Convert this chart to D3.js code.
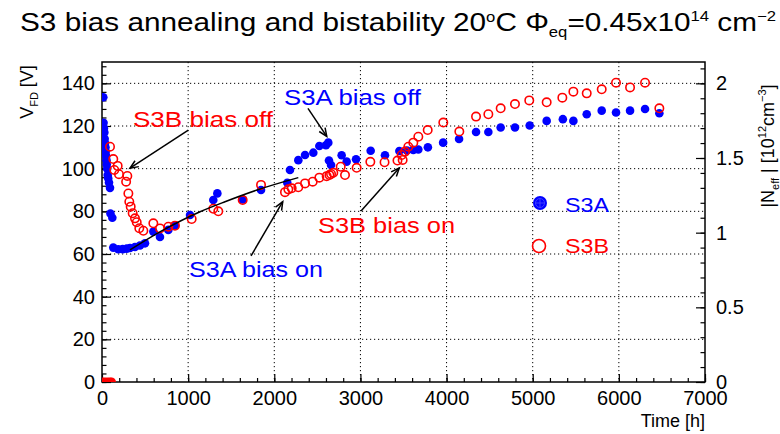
<!DOCTYPE html>
<html>
<head>
<meta charset="utf-8">
<script src="https://cdn.jsdelivr.net/npm/d3@7"></script>
<style>
  body { margin: 0; background: #fff; }
  svg { display: block; font-family: "Liberation Sans", Arial, sans-serif; }
</style>
</head>
<body>
<svg id="chart" width="780" height="434"></svg>
<script>
// S3A, bias switched on/off (time [h], V_FD [V])
var s3aTime = [15, 18, 22, 27, 31, 35, 40, 43, 48, 52, 55, 60, 66, 72, 81, 93, 98, 120,
  131, 189, 240, 287, 325, 383, 441, 499, 596, 673, 770, 847, 1022, 1292, 1339, 1633, 1846,
  2151, 2182, 2279, 2357, 2453, 2523, 2600, 2627, 2635, 2659, 2782, 2840, 2949, 3119, 3285,
  3452, 3540, 3614, 3672, 3783, 3960, 4145, 4342, 4485, 4628, 4794, 4965, 5162, 5350, 5472,
  5627, 5801, 5967, 6130, 6304, 6470];
var s3aVfd = [133.5, 121.5, 119, 117, 114, 112, 110, 108, 106, 104, 102, 100, 97, 95.5, 93.5, 91, 79, 77,
  63, 62.2, 62.3, 62.5, 62.8, 63.3, 64, 65, 70.5, 68, 71.3, 73.3, 78.3, 85.3, 88.4, 85.6, 90,
  93.4, 99.4, 104, 106.4, 107.5, 110.6, 111, 112.2, 103.8, 101.7, 106.3, 103.3, 104.4, 108.4, 106.3,
  108.3, 108.5, 108.8, 109, 110, 112.2, 113.9, 117.2, 117.2, 119.3, 119.3, 120.2, 122.4, 123.2, 122.4,
  125.5, 127.2, 126.3, 127.2, 128, 126];

// S3B, open markers
var s3bTime = [93, 131, 143, 182, 197, 280, 294, 306, 317, 333, 356, 383, 403, 433, 480,
  596, 673, 770, 847, 1041, 1292, 1350, 1633, 1846, 2124, 2163, 2202, 2279, 2357, 2446, 2523,
  2608, 2640, 2659, 2685, 2771, 2821, 2956, 3115, 3280, 3430, 3479, 3490, 3518, 3556, 3614,
  3672, 3781, 3962, 4148, 4342, 4485, 4628, 4794, 4960, 5162, 5344, 5472, 5627, 5801, 5967,
  6130, 6304, 6470];
var s3bVfd = [110.3, 104.5, 99.4, 101.3, 97.4, 93.9, 96.6, 88.4, 84.5, 82.2, 79.1, 76.7, 74.9, 72.1, 70.9,
  74.4, 72, 72.8, 73.3, 76.4, 81.2, 80, 85.3, 92.4, 89, 90.3, 90.8, 91.3, 93.1, 93.9, 95.8,
  96.5, 97, 97.5, 98.1, 100.9, 97, 100.4, 103.2, 103, 103.8, 106.4, 104.1, 108, 110.3, 112.2,
  115, 118.1, 121.6, 117.4, 124.4, 125.5, 128.3, 130.3, 132, 131.1, 133.3, 136.1, 135.3, 137.2, 140.3,
  138.1, 140.3, 128.3];

// S3B points sitting at zero (filled)
var s3bZeroTime = [5, 30, 60, 90, 110];
var s3bZeroVfd = [0, 0, 0, 0, 0];

// black fit curve through the S3A bias-on part
var fitTime = [325, 693, 1138, 1428, 1800, 2279];
var fitVfd = [61.9, 70.8, 79.8, 84.5, 90, 95.8];

// annotations: text, colour, text position, arrow from -> to (data units)
var noteText = ["S3B bias off", "S3A bias off", "S3A bias on", "S3B bias on"];
var noteColor = ["#ff0000", "#0000ff", "#0000ff", "#ff0000"];
var noteTextPos = [[360, 119.5], [2113, 129.9], [1010, 49.2], [2508, 69.9]];
var noteTextWidth = [140, 137, 134, 137];
var noteArrowFrom = [[1002, 118.1], [2391, 128.3], [1730, 59.1], [3007, 80.2]];
var noteArrowTo = [[325, 100.2], [2609, 115.1], [2098, 84.5], [3451, 100.3]];

var xTicks = [0, 1000, 2000, 3000, 4000, 5000, 6000, 7000];
var yTicks = [0, 20, 40, 60, 80, 100, 120, 140];
var rTicks = [0, 0.5, 1, 1.5, 2];

var padL = 102, padR = 705, padT = 62, padB = 382;
var vPerNeff = 70;

var svg = d3.select("#chart");

var x = d3.scaleLinear().domain([0, 7000]).range([padL, padR]);
var y = d3.scaleLinear().domain([0, 150]).range([padB, padT]);
var yR = d3.scaleLinear().domain([0, 150 / vPerNeff]).range([padB, padT]);

svg.append("defs").append("clipPath").attr("id", "plotclip")
  .append("rect").attr("x", padL).attr("y", padT)
  .attr("width", padR - padL).attr("height", padB - padT);

// dotted grid
var grid = svg.append("g").attr("stroke", "#000").attr("stroke-width", 1)
  .attr("stroke-dasharray", "1.2,2.8");
grid.selectAll("line.gx").data(xTicks.slice(1, -1)).join("line").attr("class", "gx")
  .attr("x1", d => x(d)).attr("x2", d => x(d)).attr("y1", padT).attr("y2", padB);
grid.selectAll("line.gy").data(yTicks.slice(1)).join("line").attr("class", "gy")
  .attr("x1", padL).attr("x2", padR).attr("y1", d => y(d)).attr("y2", d => y(d));

// axes
function styleAxis(g) {
  g.select(".domain").remove();
  g.selectAll("line").attr("stroke", "#000").attr("stroke-width", 1.2);
  g.selectAll("text").attr("fill", "#000").style("font-size", "20px");
}

svg.append("g").attr("transform", "translate(0," + padB + ")")
  .call(d3.axisBottom(x).tickValues(d3.range(0, 7001, 200)).tickSize(-4).tickFormat(""))
  .call(styleAxis);
svg.append("g").attr("transform", "translate(0," + padB + ")")
  .call(d3.axisBottom(x).tickValues(xTicks).tickSize(-8).tickPadding(9).tickFormat(d3.format("d")))
  .call(styleAxis);

svg.append("g").attr("transform", "translate(" + padL + ",0)")
  .call(d3.axisLeft(y).tickValues(d3.range(0, 151, 4)).tickSize(-4.5).tickFormat(""))
  .call(styleAxis);
svg.append("g").attr("transform", "translate(" + padL + ",0)")
  .call(d3.axisLeft(y).tickValues(yTicks).tickSize(-9).tickPadding(7).tickFormat(d3.format("d")))
  .call(styleAxis);

svg.append("g").attr("transform", "translate(" + padR + ",0)")
  .call(d3.axisRight(yR).tickValues(d3.range(0, 2.15, 0.1)).tickSize(-4.5).tickFormat(""))
  .call(styleAxis);
svg.append("g").attr("transform", "translate(" + padR + ",0)")
  .call(d3.axisRight(yR).tickValues(rTicks).tickSize(-9).tickPadding(11).tickFormat(d3.format("")))
  .call(styleAxis);

// frame
svg.append("rect").attr("x", padL).attr("y", padT)
  .attr("width", padR - padL).attr("height", padB - padT)
  .attr("fill", "none").attr("stroke", "#000").attr("stroke-width", 1.5);

// data
var plot = svg.append("g").attr("clip-path", "url(#plotclip)");

plot.selectAll("circle.zero").data(s3bZeroTime).join("circle").attr("class", "zero")
  .attr("cx", d => x(d)).attr("cy", (d, i) => y(s3bZeroVfd[i]))
  .attr("r", 4.5).attr("fill", "#ff0000");

plot.selectAll("circle.a").data(s3aTime).join("circle").attr("class", "a")
  .attr("cx", d => x(d)).attr("cy", (d, i) => y(s3aVfd[i]))
  .attr("r", 4.3).attr("fill", "#0000ff");

plot.selectAll("circle.b").data(s3bTime).join("circle").attr("class", "b")
  .attr("cx", d => x(d)).attr("cy", (d, i) => y(s3bVfd[i]))
  .attr("r", 4.2).attr("fill", "none").attr("stroke", "#ff0000").attr("stroke-width", 1.6);

var fitLine = d3.line()
  .x(d => x(d[0])).y(d => y(d[1]))
  .curve(d3.curveMonotoneX);
plot.append("path")
  .datum(fitTime.map((t, i) => [t, fitVfd[i]]))
  .attr("fill", "none").attr("stroke", "#000").attr("stroke-width", 1.5)
  .attr("d", fitLine);

// annotations with open arrow heads
var notes = svg.append("g");
noteText.forEach(function (txt, i) {
  var x1 = x(noteArrowFrom[i][0]), y1 = y(noteArrowFrom[i][1]);
  var x2 = x(noteArrowTo[i][0]), y2 = y(noteArrowTo[i][1]);
  var ang = Math.atan2(y2 - y1, x2 - x1);
  var hl = 9, ha = 0.4;
  notes.append("line").attr("x1", x1).attr("y1", y1).attr("x2", x2).attr("y2", y2)
    .attr("stroke", "#000").attr("stroke-width", 1.5);
  notes.append("path")
    .attr("d", "M" + (x2 - hl * Math.cos(ang - ha)) + "," + (y2 - hl * Math.sin(ang - ha)) +
      "L" + x2 + "," + y2 +
      "L" + (x2 - hl * Math.cos(ang + ha)) + "," + (y2 - hl * Math.sin(ang + ha)))
    .attr("fill", "none").attr("stroke", "#000").attr("stroke-width", 1.5);
  notes.append("text")
    .attr("x", x(noteTextPos[i][0])).attr("y", y(noteTextPos[i][1]))
    .attr("fill", noteColor[i]).style("font-size", "22px")
    .attr("textLength", noteTextWidth[i]).attr("lengthAdjust", "spacingAndGlyphs")
    .text(txt);
});

// legend
var legend = svg.append("g");
legend.append("circle").attr("cx", 540).attr("cy", 203).attr("r", 7).attr("fill", "#0000ff");
legend.append("circle").attr("cx", 540).attr("cy", 203).attr("r", 4.5)
  .attr("fill", "none").attr("stroke", "#4d4dff").attr("stroke-width", 0.8);
legend.append("path").attr("d", "M536,203H544M540,199V207")
  .attr("stroke", "#4d4dff").attr("stroke-width", 0.8);
legend.append("circle").attr("cx", 539).attr("cy", 246).attr("r", 6.5)
  .attr("fill", "none").attr("stroke", "#ff0000").attr("stroke-width", 1.6);
legend.append("text").attr("x", 565).attr("y", 212).attr("fill", "#0000ff")
  .style("font-size", "21px").attr("textLength", 44).attr("lengthAdjust", "spacingAndGlyphs").text("S3A");
legend.append("text").attr("x", 565).attr("y", 253).attr("fill", "#ff0000")
  .style("font-size", "21px").attr("textLength", 44).attr("lengthAdjust", "spacingAndGlyphs").text("S3B");

// title
var title = svg.append("text").attr("x", 20).attr("y", 31)
  .style("font-size", "25px").attr("fill", "#000")
  .attr("textLength", 756).attr("lengthAdjust", "spacingAndGlyphs");
title.append("tspan").text("S3 bias annealing and bistability 20");
title.append("tspan").attr("dy", -9).style("font-size", "14px").text("o");
title.append("tspan").attr("dy", 9).text("C \u03A6");
title.append("tspan").attr("dy", 6).style("font-size", "14px").text("eq");
title.append("tspan").attr("dy", -6).text("=0.45x10");
title.append("tspan").attr("dy", -10).style("font-size", "14px").text("14");
title.append("tspan").attr("dy", 10).text(" cm");
title.append("tspan").attr("dy", -10).style("font-size", "14px").text("\u22122");

// axis titles
var yTitle = svg.append("text").attr("transform", "translate(33,92) rotate(-90)")
  .attr("text-anchor", "middle").style("font-size", "18px");
yTitle.append("tspan").text("V");
yTitle.append("tspan").attr("dy", 5).style("font-size", "11px").text("FD");
yTitle.append("tspan").attr("dy", -5).text(" [V]");

var rTitle = svg.append("text").attr("transform", "translate(774,146) rotate(-90)")
  .attr("text-anchor", "middle").style("font-size", "18px");
rTitle.append("tspan").text("|N");
rTitle.append("tspan").attr("dy", 5).style("font-size", "11px").text("eff");
rTitle.append("tspan").attr("dy", -5).text(" |  [10");
rTitle.append("tspan").attr("dy", -8).style("font-size", "11px").text("12");
rTitle.append("tspan").attr("dy", 8).text("cm");
rTitle.append("tspan").attr("dy", -8).style("font-size", "11px").text("\u22123");
rTitle.append("tspan").attr("dy", 8).text("]");

svg.append("text").attr("x", padR).attr("y", 427).attr("text-anchor", "end")
  .style("font-size", "18px").text("Time [h]");
</script>
</body>
</html>
